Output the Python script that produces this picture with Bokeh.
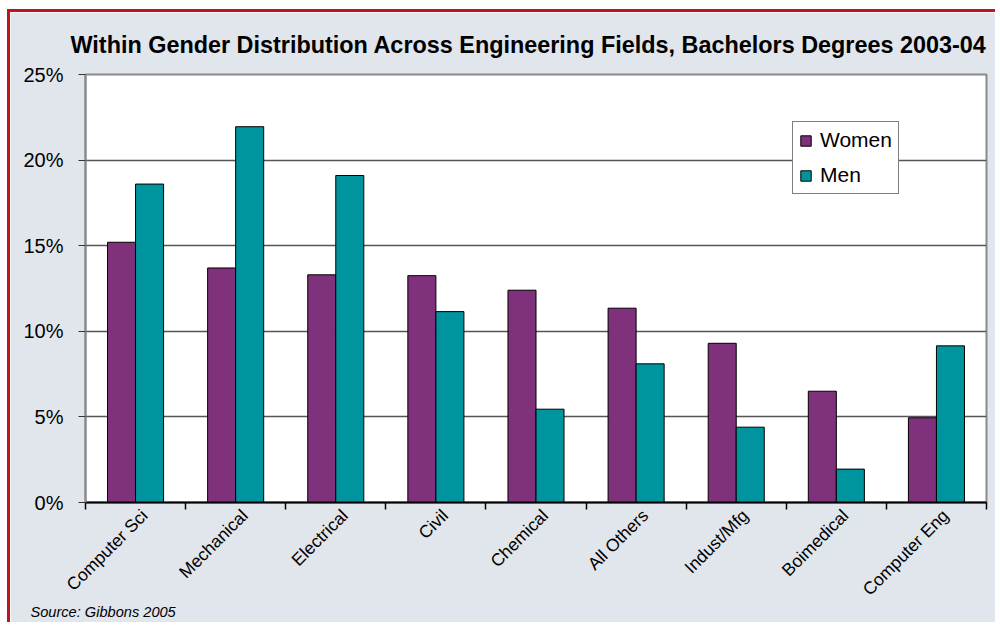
import math
from bokeh.plotting import figure
from bokeh.models import (ColumnDataSource, FixedTicker, PrintfTickFormatter, Legend,
                          LegendItem, Title, Range1d)
from bokeh.embed import file_html
from bokeh.resources import INLINE

fields = ["Computer Sci", "Mechanical", "Electrical", "Civil", "Chemical",
          "All Others", "Indust/Mfg", "Boimedical", "Computer Eng"]
women = [15.2, 13.7, 13.3, 13.25, 12.4, 11.35, 9.3, 6.5, 4.95]
men = [18.6, 21.95, 19.1, 11.15, 5.45, 8.1, 4.4, 1.95, 9.15]
y_ticks = [0, 5, 10, 15, 20, 25]

FONT = "Liberation Sans"
PURPLE = "#7f317c"
TEAL = "#00949e"
BG = "#e1e5ec"

centers = [i + 0.5 for i in range(len(fields))]
label_pos = [c + 0.09 for c in centers]
bw = 0.28
src = ColumnDataSource(dict(
    xw=[c - bw / 2 for c in centers],
    xm=[c + bw / 2 for c in centers],
    women=women, men=men))

p = figure(width=988, height=613, output_backend="svg", toolbar_location=None,
           x_range=Range1d(0, len(fields)), y_range=Range1d(0, 25),
           min_border_left=75, min_border_right=12, min_border_top=62,
           min_border_bottom=123)
p.styles = {"margin-left": "7px", "margin-top": "9px",
            "border-top": "3px solid #c0141c", "border-left": "3px solid #c0141c"}
p.background_fill_color = "white"
p.border_fill_color = BG
p.outline_line_color = "#8a8a8a"
p.outline_line_width = 2

p.title.text = "Within Gender Distribution Across Engineering Fields, Bachelors Degrees 2003-04"
p.title.text_font = FONT
p.title.text_font_size = "23.4px"
p.title.text_font_style = "bold"
p.title.text_color = "black"
p.title.align = "left"
p.title.offset = -15
p.title.standoff = 34

rw = p.vbar(x="xw", top="women", width=bw, bottom=0, source=src,
            fill_color=PURPLE, line_color="black", line_width=1)
rm = p.vbar(x="xm", top="men", width=bw, bottom=0, source=src,
            fill_color=TEAL, line_color="black", line_width=1)

# y axis
yax = p.yaxis[0]
yax.ticker = FixedTicker(ticks=y_ticks)
yax.formatter = PrintfTickFormatter(format="%d%%")
yax.major_label_text_font = FONT
yax.major_label_text_font_size = "20px"
yax.major_label_text_color = "black"
yax.major_tick_out = 7
yax.major_tick_in = 0
yax.minor_tick_out = 0
yax.minor_tick_in = 0
yax.axis_line_color = "#8a8a8a"
yax.axis_line_width = 2
yax.major_tick_line_color = "#333333"
yax.major_label_standoff = 15

p.ygrid.ticker = FixedTicker(ticks=y_ticks[1:-1])
p.ygrid.grid_line_color = "#555555"
p.ygrid.grid_line_width = 1.5
p.xgrid.visible = False

# x axis: labels near centres, ticks at boundaries
xax = p.xaxis[0]
xax.ticker = FixedTicker(ticks=label_pos, minor_ticks=list(range(len(fields) + 1)))
xax.major_label_overrides = {c: f for c, f in zip(label_pos, fields)}
xax.major_label_orientation = math.pi / 4
xax.major_label_text_font = FONT
xax.major_label_text_font_size = "17.5px"
xax.major_label_text_color = "black"
xax.major_tick_out = 0
xax.major_tick_in = 0
xax.minor_tick_out = 7
xax.minor_tick_in = 0
xax.minor_tick_line_color = "black"
xax.minor_tick_line_width = 1.5
xax.axis_line_color = "black"
xax.axis_line_width = 2
xax.major_label_standoff = 3

legend = Legend(items=[LegendItem(label="Women", renderers=[rw]),
                       LegendItem(label="Men", renderers=[rm])],
                location=(707, 308), orientation="vertical")
legend.label_text_font = FONT
legend.label_text_font_size = "21px"
legend.label_text_color = "black"
legend.glyph_width = 13
legend.glyph_height = 13
legend.label_standoff = 8
legend.spacing = 11
legend.padding = 6
legend.margin = 0
legend.border_line_color = "black"
legend.border_line_width = 1
legend.background_fill_color = "white"
legend.background_fill_alpha = 1
p.add_layout(legend, "center")

source_title = Title(text="Source: Gibbons 2005", text_font=FONT, text_font_size="14.6px",
                     text_font_style="italic", text_color="black", align="left",
                     offset=-55, standoff=-15)
p.add_layout(source_title, "below")

html = file_html(p, INLINE)
html = html.replace("<body>", '<body style="background-color:#e9e2da;">', 1)
open("out.html", "w").write(html)
